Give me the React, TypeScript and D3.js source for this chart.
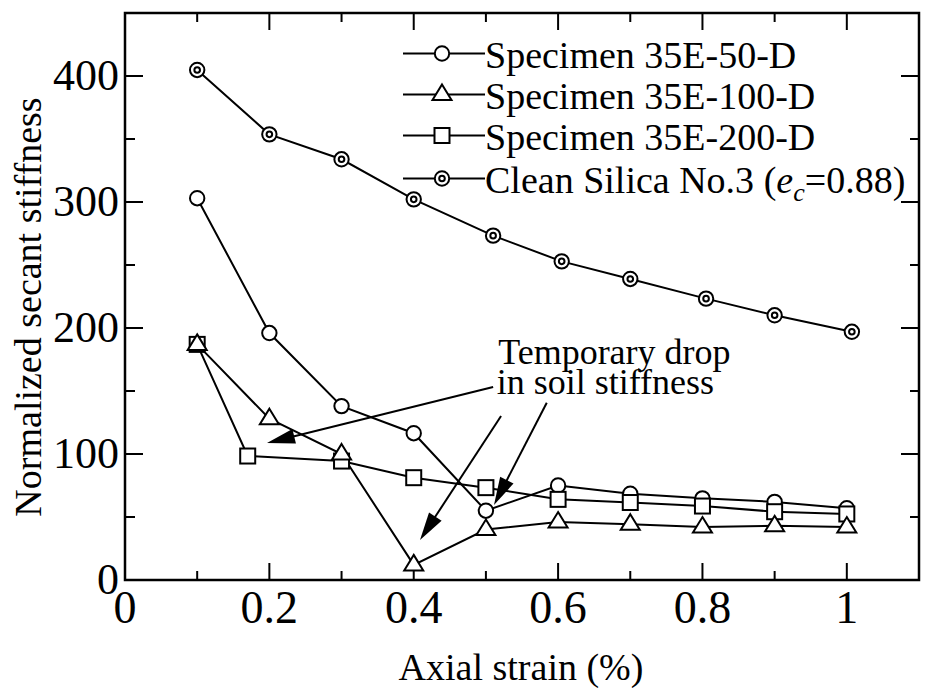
import React from "react";
import * as d3 from "d3";

const W = 925;
const H = 688;
const FONT = "Liberation Serif, Times New Roman, Times, serif";

// Data
const xStd = [0.1, 0.2, 0.3, 0.4, 0.5, 0.6, 0.7, 0.8, 0.9, 1.0];
const spec50Y = [303, 196, 138, 116.5, 55, 75, 68.5, 64.8, 62, 57];
const spec100Y = [187, 128, 100, 12, 40, 46, 44.3, 42, 43, 42];
const spec200X = [0.1, 0.17, 0.3, 0.4, 0.5, 0.6, 0.7, 0.8, 0.9, 1.0];
const spec200Y = [187, 98.4, 94.4, 81.2, 73.3, 64, 61.5, 58.7, 54.2, 52.4];
const silicaX = [0.1, 0.2, 0.3, 0.4, 0.51, 0.605, 0.7, 0.805, 0.9, 1.007];
const silicaY = [404.8, 353.7, 333.9, 302.1, 273.3, 252.9, 238.9, 223.3, 210.1, 197];

const xMajor = [0, 0.2, 0.4, 0.6, 0.8, 1];
const xMinor = [0.1, 0.3, 0.5, 0.7, 0.9];
const xLabels = ["0", "0.2", "0.4", "0.6", "0.8", "1"];
const yMajor = [0, 100, 200, 300, 400];
const yMinor = [50, 150, 250, 350];
const yLabels = ["0", "100", "200", "300", "400"];

const legendNames = [
  "Specimen 35E-50-D",
  "Specimen 35E-100-D",
  "Specimen 35E-200-D",
  "Clean Silica No.3",
];

// annotation arrows in data units: [fromX, fromY, toX, toY]
const arrows = [
  [0.51, 153.2, 0.1967, 108.7],
  [0.521, 130.2, 0.4087, 31.7],
  [0.5843, 140.7, 0.5112, 59.5],
];
const annotLines = ["Temporary drop", "in soil stiffness"];

const x = d3.scaleLinear().domain([0, 1.1]).range([125, 919]);
const y = d3.scaleLinear().domain([0, 450]).range([580, 13]);

type Kind = "circle" | "triangle" | "square" | "dcircle";

function Marker({ kind, cx, cy }: { kind: Kind; cx: number; cy: number }) {
  const sw = 2;
  if (kind === "circle")
    return <circle cx={cx} cy={cy} r={7.2} fill="#fff" stroke="#000" strokeWidth={sw} />;
  if (kind === "square")
    return (
      <rect x={cx - 7.5} y={cy - 7.5} width={15} height={15} fill="#fff" stroke="#000" strokeWidth={sw} />
    );
  if (kind === "triangle")
    return (
      <path
        d={`M${cx},${cy - 10}L${cx + 9.5},${cy + 5.5}L${cx - 9.5},${cy + 5.5}Z`}
        fill="#fff"
        stroke="#000"
        strokeWidth={sw}
        strokeLinejoin="miter"
      />
    );
  return (
    <g>
      <circle cx={cx} cy={cy} r={7.2} fill="#fff" stroke="#000" strokeWidth={sw} />
      <circle cx={cx} cy={cy} r={2.8} fill="#fff" stroke="#000" strokeWidth={sw} />
    </g>
  );
}

const series: { xs: number[]; ys: number[]; kind: Kind }[] = [
  { xs: silicaX, ys: silicaY, kind: "dcircle" },
  { xs: xStd, ys: spec50Y, kind: "circle" },
  { xs: spec200X, ys: spec200Y, kind: "square" },
  { xs: xStd, ys: spec100Y, kind: "triangle" },
];

const legendKinds: Kind[] = ["circle", "triangle", "square", "dcircle"];
const legendRowY = [53.5, 94.5, 135.5, 178.5];

const txt = { fontFamily: FONT };

export default function App() {
  const line = d3
    .line<[number, number]>()
    .x((d) => x(d[0]))
    .y((d) => y(d[1]));

  const [x0, x1] = x.range();
  const [y0, y1] = y.range();

  const arrowEls = arrows.map((a, i) => {
    const sx = x(a[0]), sy = y(a[1]), tx = x(a[2]), ty = y(a[3]);
    const dx = tx - sx, dy = ty - sy;
    const len = Math.hypot(dx, dy);
    const ux = dx / len, uy = dy / len;
    const L = 28, hw = 7.5;
    const bx = tx - ux * L, by = ty - uy * L;
    const nx = -uy, ny = ux;
    return (
      <g key={i}>
        <line x1={sx} y1={sy} x2={bx + ux * 2} y2={by + uy * 2} stroke="#000" strokeWidth={2} />
        <path
          d={`M${tx},${ty}L${bx + nx * hw},${by + ny * hw}L${bx - nx * hw},${by - ny * hw}Z`}
          fill="#000"
        />
      </g>
    );
  });

  return (
    <svg
      width={W}
      height={H}
      style={{ position: "absolute", left: 0, top: 0, background: "#fff", fontFamily: FONT }}
    >
      <rect x={0} y={0} width={W} height={H} fill="#fff" />

      {/* ticks */}
      <g stroke="#000" strokeWidth={2}>
        {xMajor.map((v) => (
          <g key={"xM" + v}>
            <line x1={x(v)} x2={x(v)} y1={y0} y2={y0 - 17} />
            <line x1={x(v)} x2={x(v)} y1={y1} y2={y1 + 17} />
          </g>
        ))}
        {xMinor.map((v) => (
          <g key={"xm" + v}>
            <line x1={x(v)} x2={x(v)} y1={y0} y2={y0 - 9} />
            <line x1={x(v)} x2={x(v)} y1={y1} y2={y1 + 9} />
          </g>
        ))}
        {yMajor.map((v) => (
          <g key={"yM" + v}>
            <line x1={x0} x2={x0 + 18} y1={y(v)} y2={y(v)} />
            <line x1={x1} x2={x1 - 18} y1={y(v)} y2={y(v)} />
          </g>
        ))}
        {yMinor.map((v) => (
          <g key={"ym" + v}>
            <line x1={x0} x2={x0 + 10} y1={y(v)} y2={y(v)} />
            <line x1={x1} x2={x1 - 9} y1={y(v)} y2={y(v)} />
          </g>
        ))}
      </g>

      {/* tick labels */}
      {xMajor.map((v, i) => (
        <text key={"xl" + v} style={txt} x={x(v)} y={623} textAnchor="middle" fontSize={46}>
          {xLabels[i]}
        </text>
      ))}
      {yMajor.map((v, i) => (
        <text
          key={"yl" + v}
          style={txt}
          x={119}
          y={y(v) + 14}
          textAnchor="end"
          fontSize={44}
        >
          {yLabels[i]}
        </text>
      ))}

      {/* axis titles */}
      <text style={txt} x={521} y={680} textAnchor="middle" fontSize={38}>
        Axial strain (%)
      </text>
      <text
        style={txt}
        transform="translate(41,307) rotate(-90)"
        textAnchor="middle"
        fontSize={38}
      >
        Normalized secant stiffness
      </text>

      {/* series lines */}
      {series.map((s, i) => (
        <path
          key={"l" + i}
          d={line(s.xs.map((v, j) => [v, s.ys[j]] as [number, number])) || ""}
          fill="none"
          stroke="#000"
          strokeWidth={2}
        />
      ))}

      {/* annotation arrows */}
      {arrowEls}

      {/* markers */}
      {series.map((s, i) => (
        <g key={"m" + i}>
          {s.xs.map((v, j) => (
            <Marker key={j} kind={s.kind} cx={x(v)} cy={y(s.ys[j])} />
          ))}
        </g>
      ))}

      {/* annotation text */}
      <text style={txt} x={x(0.517)} y={364} fontSize={36}>
        {annotLines[0]}
      </text>
      <text style={txt} x={x(0.515)} y={394} fontSize={36}>
        {annotLines[1]}
      </text>

      {/* legend */}
      {legendKinds.map((k, i) => (
        <g key={"lg" + i}>
          <line x1={403} x2={485} y1={legendRowY[i]} y2={legendRowY[i]} stroke="#000" strokeWidth={2} />
          <Marker kind={k} cx={442} cy={legendRowY[i]} />
          <text style={txt} x={485} y={legendRowY[i] + 14} fontSize={38}>
            {legendNames[i]}
            {i === 3 ? (
              <>
                {" ("}
                <tspan fontStyle="italic">e</tspan>
                <tspan fontStyle="italic" fontSize={26} dy={8}>
                  c
                </tspan>
                <tspan dy={-8}>=0.88)</tspan>
              </>
            ) : null}
          </text>
        </g>
      ))}

      {/* frame */}
      <rect
        x={x0}
        y={y1}
        width={x1 - x0}
        height={y0 - y1}
        fill="none"
        stroke="#000"
        strokeWidth={2.5}
      />
    </svg>
  );
}
